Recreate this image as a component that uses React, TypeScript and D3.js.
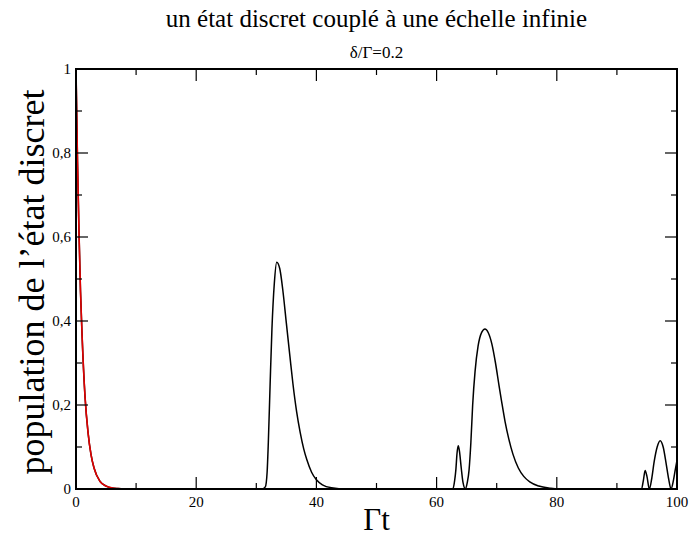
import React, { useEffect, useRef } from "react";
import * as d3 from "d3";

// Γt values and population of the discrete state
const popT = [
  0, 0.25, 0.5, 0.75, 1, 1.5, 2, 2.5, 3, 4, 5, 6, 7, 8, 10, 20, 31, 31.5, 31.8, 32, 32.3, 32.6, 33,
  33.4, 33.9, 34.4, 35, 35.6, 36.1, 36.7, 37.3, 37.9, 38.4, 39.2, 40, 41, 42.5, 45, 55, 62.7, 63,
  63.2, 63.4, 63.6, 63.8, 64.1, 64.4, 64.8, 65.1, 65.4, 65.7, 66, 66.4, 66.9, 67.5, 68.05, 68.6,
  69.2, 69.8, 70.4, 70.8, 71.4, 72, 72.7, 73.6, 74.5, 75.5, 77, 79, 81, 90, 94.1, 94.4, 94.7, 95,
  95.4, 95.8, 96.2, 96.7, 97.2, 97.7, 98.2, 98.6, 99, 99.4, 99.7, 100,
];
const popP = [
  1, 0.78, 0.61, 0.47, 0.37, 0.22, 0.135, 0.082, 0.05, 0.018, 0.007, 0.0025, 0.001, 0.0003, 0, 0, 0,
  0.005, 0.04, 0.11, 0.25, 0.38, 0.49, 0.54, 0.525, 0.475, 0.395, 0.315, 0.25, 0.185, 0.135, 0.095,
  0.07, 0.04, 0.022, 0.01, 0.003, 0, 0, 0, 0.02, 0.045, 0.085, 0.103, 0.09, 0.05, 0.015, 0, 0.015,
  0.045, 0.11, 0.2, 0.28, 0.34, 0.373, 0.381, 0.372, 0.345, 0.3, 0.245, 0.21, 0.16, 0.12, 0.083,
  0.05, 0.03, 0.017, 0.007, 0.002, 0, 0, 0, 0.02, 0.044, 0.03, 0, 0.025, 0.065, 0.1, 0.115, 0.1,
  0.06, 0.025, 0, 0.02, 0.045, 0.068,
];

// exponential decay (red) over the first part
const decayT = [0, 0.25, 0.5, 0.75, 1, 1.5, 2, 2.5, 3, 4, 5, 6, 7, 8, 10];
const decayP = [1, 0.78, 0.61, 0.47, 0.37, 0.22, 0.135, 0.082, 0.05, 0.018, 0.007, 0.0025, 0.001, 0.0003, 0];

const xMajor = [0, 20, 40, 60, 80, 100];
const xMinor = [10, 30, 50, 70, 90];
const yMajor = [0, 0.2, 0.4, 0.6, 0.8, 1];
const yMinor = [0.1, 0.3, 0.5, 0.7, 0.9];
const yLabels = ["0", "0,2", "0,4", "0,6", "0,8", "1"];

const FONT = "Liberation Serif, Times New Roman, DejaVu Serif, serif";

const Chart = () => {
  const svgRef = useRef<SVGSVGElement>(null);

  useEffect(() => {
    const svg = d3.select(svgRef.current);
    svg.selectAll("*").remove();

    const left = 76;
    const right = 677;
    const top = 69;
    const bottom = 489;

    const x = d3.scaleLinear().domain([0, 100]).range([left, right]);
    const y = d3.scaleLinear().domain([0, 1]).range([bottom, top]);

    // titles
    svg.append("text")
      .attr("x", (left + right) / 2)
      .attr("y", 27)
      .attr("text-anchor", "middle")
      .attr("font-family", FONT)
      .attr("font-size", 25)
      .text("un état discret couplé à une échelle infinie");

    svg.append("text")
      .attr("x", (left + right) / 2)
      .attr("y", 58)
      .attr("text-anchor", "middle")
      .attr("font-family", FONT)
      .attr("font-size", 17)
      .text("δ/Γ=0.2");

    // curves
    const line = d3
      .line<number>()
      .x((d, i) => x(popT[i]))
      .y((d) => y(d))
      .curve(d3.curveMonotoneX);

    svg.append("path")
      .attr("d", line(popP))
      .attr("fill", "none")
      .attr("stroke", "black")
      .attr("stroke-width", 1.5);

    const redLine = d3
      .line<number>()
      .x((d, i) => x(decayT[i]))
      .y((d) => y(d))
      .curve(d3.curveMonotoneX);

    svg.append("path")
      .attr("d", redLine(decayP))
      .attr("fill", "none")
      .attr("stroke", "#e00000")
      .attr("stroke-width", 1.6);

    // ticks, pointing inward on all four sides
    const g = svg.append("g").attr("stroke", "black").attr("stroke-width", 1.2);
    const xt = [...xMajor.map((v) => ({ v, len: 12 })), ...xMinor.map((v) => ({ v, len: 6 }))];
    const yt = [...yMajor.map((v) => ({ v, len: 12 })), ...yMinor.map((v) => ({ v, len: 6 }))];

    xt.forEach((t) => {
      g.append("line").attr("x1", x(t.v)).attr("x2", x(t.v)).attr("y1", bottom).attr("y2", bottom - t.len);
      g.append("line").attr("x1", x(t.v)).attr("x2", x(t.v)).attr("y1", top).attr("y2", top + t.len);
    });
    yt.forEach((t) => {
      g.append("line").attr("x1", left).attr("x2", left + t.len).attr("y1", y(t.v)).attr("y2", y(t.v));
      g.append("line").attr("x1", right).attr("x2", right - t.len).attr("y1", y(t.v)).attr("y2", y(t.v));
    });

    // frame
    svg.append("rect")
      .attr("x", left)
      .attr("y", top)
      .attr("width", right - left)
      .attr("height", bottom - top)
      .attr("fill", "none")
      .attr("stroke", "black")
      .attr("stroke-width", 2);

    // tick labels
    svg.selectAll(".xl")
      .data(xMajor)
      .enter()
      .append("text")
      .attr("x", (d) => x(d))
      .attr("y", bottom + 18)
      .attr("text-anchor", "middle")
      .attr("font-family", FONT)
      .attr("font-size", 15)
      .text((d) => d);

    svg.selectAll(".yl")
      .data(yMajor)
      .enter()
      .append("text")
      .attr("x", left - 5)
      .attr("y", (d) => y(d))
      .attr("dy", "0.35em")
      .attr("text-anchor", "end")
      .attr("font-family", FONT)
      .attr("font-size", 15)
      .text((d, i) => yLabels[i]);

    // axis labels
    svg.append("text")
      .attr("x", (left + right) / 2)
      .attr("y", 530)
      .attr("text-anchor", "middle")
      .attr("font-family", FONT)
      .attr("font-size", 31)
      .text("Γt");

    svg.append("text")
      .attr("transform", `translate(44, ${(top + bottom) / 2 + 3}) rotate(-90)`)
      .attr("text-anchor", "middle")
      .attr("font-family", FONT)
      .attr("font-size", 36)
      .text("population de l’état discret");
  }, []);

  return <svg ref={svgRef} width={690} height={537}></svg>;
};

export default function App() {
  return (
    <div style={{ position: "absolute", left: 0, top: 0, background: "white" }}>
      <Chart />
    </div>
  );
}
